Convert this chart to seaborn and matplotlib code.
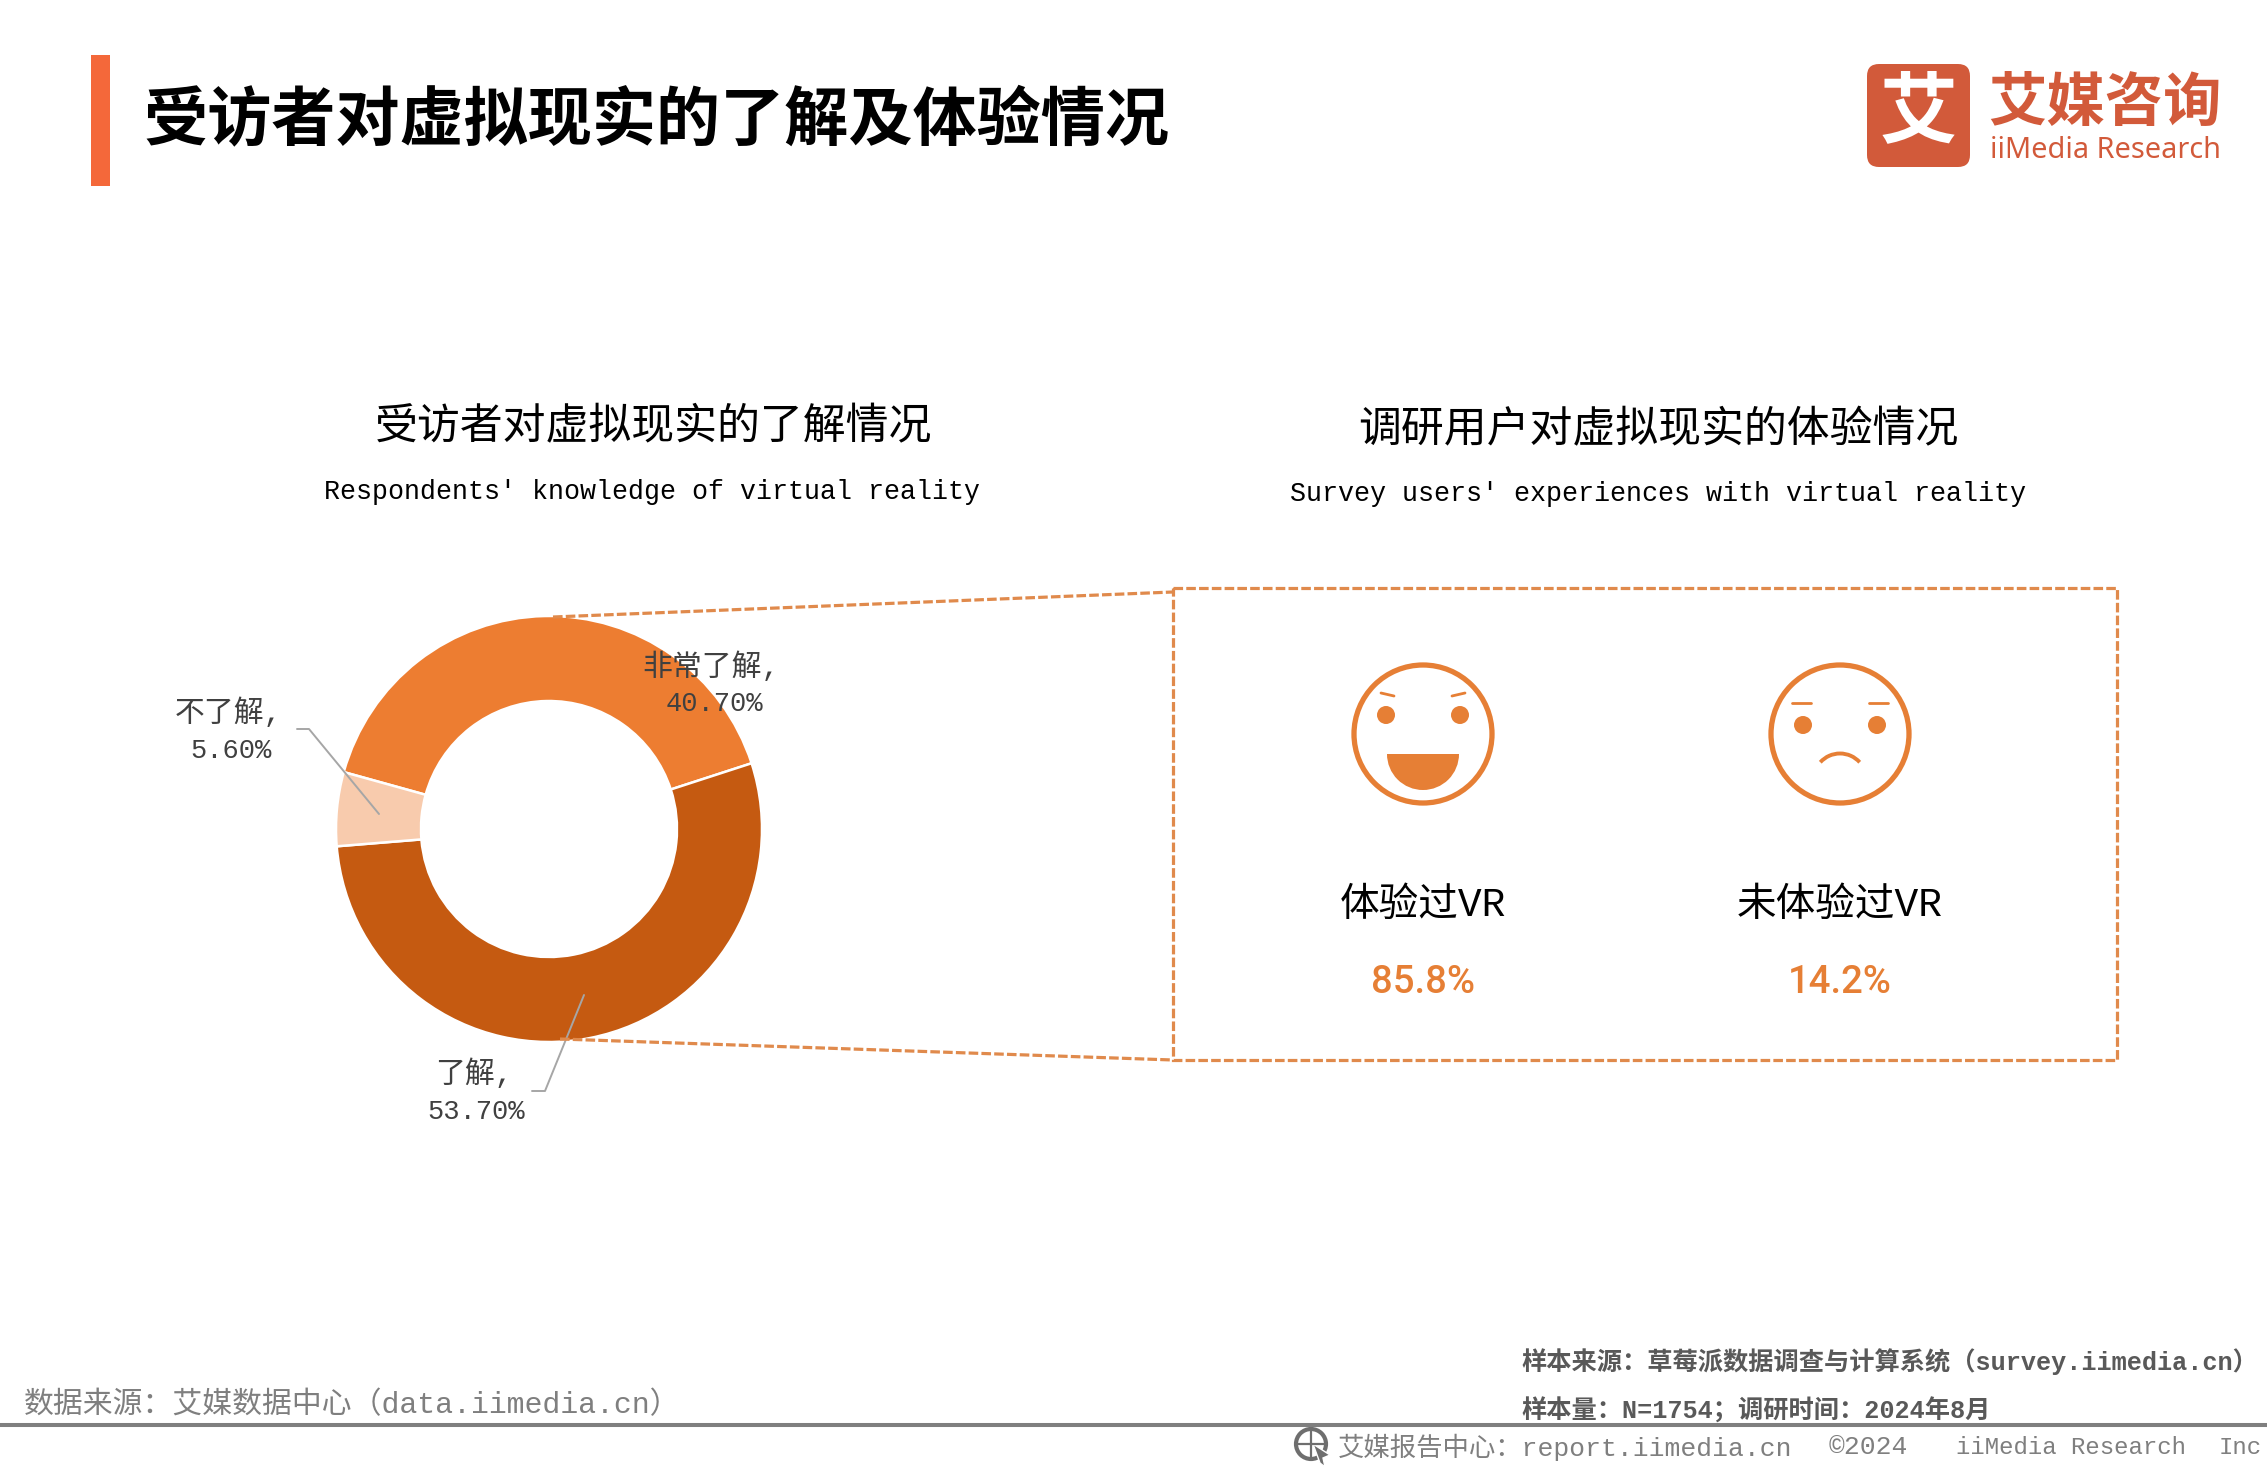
import matplotlib
matplotlib.use("Agg")
import matplotlib.pyplot as plt
import seaborn as sns
from matplotlib.patches import Arc, Circle, FancyBboxPatch, Polygon, Rectangle, Wedge

W, H = 2267, 1474

# 了解情况 (clockwise, starting from the wedge boundary on the upper left)
knowledge_labels = ["非常了解,", "了解,", "不了解,"]
knowledge_values = [40.7, 53.7, 5.6]
knowledge_colors = ["#ED7D31", "#C55A11", "#F8CBAD"]

# 体验情况
experience_labels = ["体验过VR", "未体验过VR"]
experience_values = [85.8, 14.2]

title = "受访者对虚拟现实的了解及体验情况"
left_title = "受访者对虚拟现实的了解情况"
left_subtitle = "Respondents' knowledge of virtual reality"
right_title = "调研用户对虚拟现实的体验情况"
right_subtitle = "Survey users' experiences with virtual reality"

ORANGE = "#E67F35"
DASH = "#E08A4C"
GREY = "#7F7F7F"
LOGO = "#D25A3A"
FONTS = ["Liberation Mono", "Noto Sans CJK SC"]


def put(ax, x, y, s, size, color="black", ha="center", weight="normal", family=None):
    # 字体的视觉中心比 va=center 略高, 统一下移 3 像素
    ax.text(x, y + 3, s, fontsize=size, color=color, ha=ha, va="center",
            weight=weight, family=family or FONTS)


def draw_donut(fig):
    # 画在像素位置上: 中心 (549, 829), 半径 213, 内径 128
    cx, cy, r = 549, 829, 216
    ax = fig.add_axes([(cx - r) / W, 1 - (cy + r) / H, 2 * r / W, 2 * r / H])
    palette = sns.color_palette(knowledge_colors)
    ax.pie(knowledge_values, colors=palette, startangle=164.5, counterclock=False,
           radius=213 / r, wedgeprops=dict(width=(213 - 128) / r, edgecolor="white", linewidth=1.8))
    ax.set_xlim(-1, 1)
    ax.set_ylim(-1, 1)


def draw_labels(ax):
    name_pos = [(711, 664), (474, 1071), (228, 710)]
    value_pos = [(714, 701), (476, 1109), (231, 748)]
    for name, value, p1, p2 in zip(knowledge_labels, knowledge_values, name_pos, value_pos):
        put(ax, p1[0], p1[1], name, 21.5, "#404040")
        put(ax, p2[0], p2[1], f"{value:.2f}%", 19.5, "#404040")
    ax.plot([297, 309, 379], [729, 729, 814], color="#A6A6A6", lw=1.4)
    ax.plot([584, 545, 532], [995, 1091, 1091], color="#A6A6A6", lw=1.4)


def draw_box(ax):
    dash = dict(color=DASH, lw=2.3, linestyle=(0, (3, 1)))
    ax.add_patch(Rectangle((1173, 588), 944, 472, fill=False, edgecolor=DASH,
                           lw=2.3, linestyle=(0, (3, 1))))
    ax.plot([553, 1173], [617, 592], **dash)
    ax.plot([560, 1173], [1039, 1060], **dash)


def draw_face(ax, cx, happy):
    cy = 734
    ax.add_patch(Circle((cx, cy), 69, fill=False, edgecolor=ORANGE, lw=3.8))
    eye_y = 715 if happy else 725
    for dx in (-37, 37):
        ax.add_patch(Circle((cx + dx, eye_y), 9, color=ORANGE, lw=0))
    if happy:
        ax.plot([cx - 42, cx - 29], [693, 696], color=ORANGE, lw=2, solid_capstyle="round")
        ax.plot([cx + 29, cx + 42], [696, 693], color=ORANGE, lw=2, solid_capstyle="round")
        ax.add_patch(Wedge((cx, 754), 36, 0, 180, color=ORANGE, lw=0))
    else:
        ax.plot([cx - 48, cx - 29], [703, 703], color=ORANGE, lw=2, solid_capstyle="round")
        ax.plot([cx + 29, cx + 48], [703, 703], color=ORANGE, lw=2, solid_capstyle="round")
        ax.add_patch(Arc((cx, 780), 53, 53, theta1=222, theta2=318, color=ORANGE, lw=2.8))


def draw_experience(ax):
    centers = [1423, 1840]
    for i, (cx, name, value) in enumerate(zip(centers, experience_labels, experience_values)):
        draw_face(ax, cx, i == 0)
        put(ax, cx, 902, name, 28.5)
        put(ax, cx, 979, f"{value}%", 27.5, ORANGE, weight="medium", family=["Roboto"])


def draw_logo(ax):
    ax.add_patch(FancyBboxPatch((1875, 72), 87, 87, boxstyle="round,pad=8,rounding_size=12",
                                facecolor=LOGO, edgecolor="none"))
    put(ax, 1918, 110, "艾", 56, "white", weight="bold", family=["Noto Sans CJK SC"])
    put(ax, 2105, 101, "艾媒咨询", 42, LOGO, weight="bold", family=["Noto Sans CJK SC"])
    put(ax, 2106, 147, "iiMedia Research", 20.8, LOGO, weight="medium", family=["Noto Sans"])


def draw_footer(ax):
    ax.plot([0, W], [1425, 1425], color=GREY, lw=2.9)
    put(ax, 24, 1402, "数据来源：艾媒数据中心（data.iimedia.cn）", 21.5, GREY, ha="left")
    put(ax, 1521, 1359, "样本来源：草莓派数据调查与计算系统（survey.iimedia.cn）", 18.2, "#595959", ha="left", weight="bold")
    put(ax, 1521, 1408, "样本量：N=1754；调研时间：2024年8月", 18.2, "#595959", ha="left", weight="bold")

    # 小地球图标
    ax.add_patch(Circle((1311, 1444), 15, fill=False, edgecolor="#6E6E6E", lw=3))
    ax.plot([1298, 1324], [1444, 1444], color="#6E6E6E", lw=1.6)
    ax.plot([1311, 1311], [1430, 1458], color="#6E6E6E", lw=1.6)
    ax.add_patch(Polygon([(1313, 1444), (1330, 1455), (1323, 1458), (1325, 1467), (1320, 1463)],
                         facecolor="#6E6E6E", edgecolor="white", lw=1))

    put(ax, 1338, 1444, "艾媒报告中心：report.iimedia.cn", 19, GREY, ha="left")
    put(ax, 1829, 1444, "©2024", 19, GREY, ha="left")
    put(ax, 1956, 1444, "iiMedia Research", 17.3, GREY, ha="left")
    put(ax, 2219, 1444, "Inc", 17.3, GREY, ha="left")


def main():
    sns.set_theme(style="white")
    plt.rcParams["font.family"] = FONTS

    fig = plt.figure(figsize=(W / 100, H / 100), dpi=100, facecolor="white")
    draw_donut(fig)

    # 其余内容都放在一层像素坐标的透明轴上
    ax = fig.add_axes([0, 0, 1, 1])
    ax.set_xlim(0, W)
    ax.set_ylim(H, 0)
    ax.axis("off")

    ax.add_patch(Rectangle((91, 55), 19, 131, color="#F4683A", lw=0))
    put(ax, 143, 118, title, 46.2, ha="left", weight="bold", family=["Noto Sans CJK SC"])

    put(ax, 653, 425, left_title, 30.9, weight="medium")
    put(ax, 652, 489, left_subtitle, 19.2)
    put(ax, 1658, 428, right_title, 30.9, weight="medium")
    put(ax, 1658, 491, right_subtitle, 19.25)

    draw_labels(ax)
    draw_box(ax)
    draw_experience(ax)
    draw_logo(ax)
    draw_footer(ax)

    fig.savefig("out.png", dpi=100)


if __name__ == "__main__":
    main()
